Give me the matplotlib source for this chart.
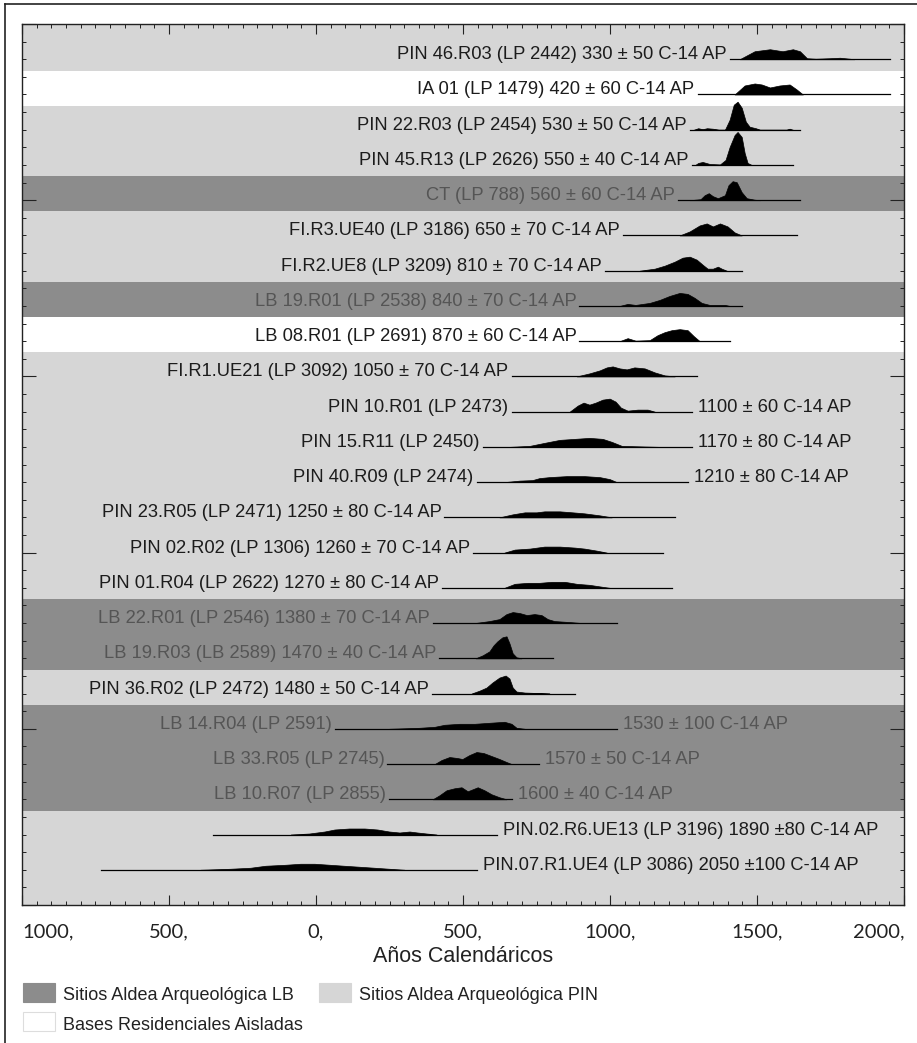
import matplotlib.pyplot as plt
from matplotlib.lines import Line2D
from matplotlib.patches import Rectangle
from matplotlib.ticker import MultipleLocator
from matplotlib.transforms import offset_copy

# sample name + lab code, and the radiocarbon date of every row (top to bottom)
names = [
    "PIN 46.R03 (LP 2442)", "IA 01 (LP 1479)", "PIN 22.R03 (LP 2454)",
    "PIN 45.R13 (LP 2626)", "CT (LP 788)", "FI.R3.UE40 (LP 3186)",
    "FI.R2.UE8 (LP 3209)", "LB 19.R01 (LP 2538)", "LB 08.R01 (LP 2691)",
    "FI.R1.UE21 (LP 3092)", "PIN 10.R01 (LP 2473)", "PIN 15.R11 (LP 2450)",
    "PIN 40.R09 (LP 2474)", "PIN 23.R05 (LP 2471)", "PIN 02.R02 (LP 1306)",
    "PIN 01.R04 (LP 2622)", "LB 22.R01 (LP 2546)", "LB 19.R03 (LB 2589)",
    "PIN 36.R02 (LP 2472)", "LB 14.R04 (LP 2591)", "LB 33.R05 (LP 2745)",
    "LB 10.R07 (LP 2855)", "PIN.02.R6.UE13 (LP 3196)", "PIN.07.R1.UE4 (LP 3086)",
]
dates = [
    "330 ± 50 C-14 AP", "420 ± 60 C-14 AP", "530 ± 50 C-14 AP",
    "550 ± 40 C-14 AP", "560 ± 60 C-14 AP", "650 ± 70 C-14 AP",
    "810 ± 70 C-14 AP", "840 ± 70 C-14 AP", "870 ± 60 C-14 AP",
    "1050 ± 70 C-14 AP", "1100 ± 60 C-14 AP", "1170 ± 80 C-14 AP",
    "1210 ± 80 C-14 AP", "1250 ± 80 C-14 AP", "1260 ± 70 C-14 AP",
    "1270 ± 80 C-14 AP", "1380 ± 70 C-14 AP", "1470 ± 40 C-14 AP",
    "1480 ± 50 C-14 AP", "1530 ± 100 C-14 AP", "1570 ± 50 C-14 AP",
    "1600 ± 40 C-14 AP", "1890 ±80 C-14 AP", "2050 ±100 C-14 AP",
]
# where the label goes: all on the left, name left / date right, all on the right
label_side = (["left"] * 10 + ["split"] * 3 + ["left"] * 6
              + ["split"] * 3 + ["right"] * 2)
# LB = Aldea LB, PIN = Aldea PIN, BRA = bases residenciales aisladas
groups = ["PIN", "BRA", "PIN", "PIN", "LB", "PIN", "PIN", "LB", "BRA",
          "PIN", "PIN", "PIN", "PIN", "PIN", "PIN", "PIN", "LB", "LB",
          "PIN", "LB", "LB", "LB", "PIN", "PIN"]

# calibrated range drawn as baseline (cal years, negative = BC)
range_start = [1407, 1298, 1271, 1278, 1230, 1043, 982, 896, 896, 665, 665, 567,
               546, 437, 533, 427, 397, 420, 393, 63, 243, 249, -352, -731]
range_end = [1952, 1952, 1646, 1622, 1646, 1635, 1448, 1448, 1407, 1295, 1278, 1278,
             1264, 1220, 1179, 1210, 1023, 805, 880, 1023, 760, 665, 614, 546]

# probability curves (year, relative probability)
curve_years = [
    [1441, 1492, 1544, 1587, 1622, 1646, 1670, 1700, 1747, 1782, 1816, 1830],
    [1424, 1458, 1492, 1516, 1544, 1577, 1611, 1635, 1656],
    [1285, 1300, 1315, 1330, 1350, 1370, 1391, 1407, 1421, 1434, 1448, 1462, 1475,
     1496, 1510, 1600, 1611, 1622],
    [1290, 1300, 1315, 1339, 1374, 1393, 1407, 1424, 1434, 1448, 1458, 1468, 1482],
    [1271, 1308, 1322, 1336, 1350, 1367, 1391, 1403, 1417, 1431, 1448, 1465, 1492, 1510],
    [1237, 1271, 1305, 1329, 1350, 1374, 1400, 1424, 1448],
    [1101, 1152, 1186, 1220, 1247, 1271, 1295, 1315, 1332, 1350, 1367, 1380, 1397],
    [1033, 1060, 1087, 1135, 1169, 1203, 1237, 1264, 1288, 1312, 1339, 1391, 1407],
    [1033, 1060, 1087, 1135, 1162, 1186, 1210, 1237, 1264, 1285, 1305],
    [887, 930, 965, 989, 1009, 1033, 1057, 1083, 1118, 1152, 1186, 1220],
    [863, 890, 910, 930, 951, 975, 999, 1019, 1037, 1060, 1094, 1128, 1152],
    [658, 727, 777, 829, 880, 930, 975, 1006, 1040, 1101, 1169],
    [641, 693, 736, 760, 794, 853, 913, 965, 999, 1023],
    [624, 669, 710, 750, 777, 829, 873, 913, 965, 1006],
    [641, 676, 727, 777, 829, 880, 913, 954, 989],
    [641, 676, 720, 760, 801, 846, 887, 930, 975, 999],
    [540, 590, 624, 648, 669, 693, 717, 743, 767, 788, 811, 863, 906],
    [543, 567, 590, 604, 617, 634, 648, 658, 669, 682, 699],
    [529, 557, 580, 600, 624, 645, 658, 669, 682, 710, 760, 794],
    [249, 352, 404, 437, 488, 540, 590, 641, 665, 682, 710],
    [404, 427, 454, 481, 498, 522, 546, 570, 597, 624, 648, 665],
    [397, 420, 444, 471, 495, 516, 533, 550, 573, 597, 624, 648],
    [-86, -23, 29, 63, 113, 165, 209, 249, 284, 318, 345, 376, 410],
    [-393, -291, -223, -172, -103, -53, -5, 46, 96, 148, 199, 249, 301],
]
curve_prob = [
    [0, 8, 10, 8, 10, 8, 1, 0.5, 1, 1.5, 0.5, 0],
    [0, 9, 11, 10, 7, 9, 10, 5, 0],
    [0, 1.5, 0.5, 1.5, 1, 0, 0, 10, 25, 28, 22, 8, 3, 1.5, 0, 0, 1, 0],
    [0, 2, 3, 1, 0.5, 5, 18, 30, 33, 28, 12, 2, 0],
    [0, 1, 5, 7, 4, 2, 5, 15, 19, 18, 8, 2, 0.5, 0],
    [0, 4, 10, 12, 9, 12, 9, 3, 0],
    [0, 2, 5, 9, 13, 14, 11, 6, 2, 2, 4, 2, 0],
    [0, 2, 1, 3, 6, 10, 13, 12, 8, 3, 1, 1, 0],
    [0, 3, 0.5, 1, 6, 9, 11, 12, 11, 5, 0],
    [0, 3, 6, 9, 10, 8, 7, 9, 8, 4, 1, 0],
    [0, 6, 9, 7, 9, 12, 13, 10, 4, 1, 2, 2, 0],
    [0, 1, 4, 7, 8, 9, 8, 5, 1, 0.5, 0],
    [0, 1.5, 2, 4, 5, 6, 6, 5, 3, 0],
    [0, 3, 5, 5, 6, 6, 5, 4, 2, 0],
    [0, 3, 4, 6, 6, 5, 4, 2, 0],
    [0, 4, 5, 5, 6, 6, 4, 3, 1, 0],
    [0, 2, 4, 9, 11, 10, 8, 9, 8, 4, 2, 1, 0],
    [0, 3, 7, 13, 17, 21, 22, 15, 5, 1, 0],
    [0, 3, 6, 11, 16, 18, 15, 6, 2, 1, 0.5, 0],
    [0, 1, 2, 4, 5, 5, 6, 7, 5, 1, 0],
    [0, 4, 7, 6, 5, 9, 12, 11, 8, 5, 2, 0],
    [0, 4, 9, 11, 12, 8, 10, 12, 9, 5, 2, 0],
    [0, 1, 3, 5, 6, 6, 5, 3, 2, 3, 2, 1, 0],
    [0, 1, 2, 4, 5, 6, 6, 5, 4, 3, 2, 1, 0],
]

x_ticks = [-1000, -500, 0, 500, 1000, 1500, 2000]
x_tick_labels = ["1000,", "500,", "0,", "500,", "1000,", "1500,", "2000,"]

band_colors = {"PIN": "#d6d6d6", "LB": "#8c8c8c", "BRA": "white"}
legend_labels = {"LB": "Sitios Aldea Arqueológica LB",
                 "PIN": "Sitios Aldea Arqueológica PIN",
                 "BRA": "Bases Residenciales Aisladas"}
PX_PER_ROW = 35.24

W, H = 917, 1043
fig = plt.figure(figsize=(W / 100, H / 100), dpi=100)
plt.rcParams["font.family"] = ["Liberation Sans", "DejaVu Sans"]

ax = fig.add_axes([22 / W, 1 - 905 / H, (904 - 22) / W, (905 - 24) / H])
ax.set_xlim(-1000, 2000)
ax.set_ylim(25, 0)

n = len(names)
for i in range(n):
    row = i + 1
    top = 0 if i == 0 else row - 0.68
    bottom = 25 if i == n - 1 else row + 0.32
    if groups[i] != "BRA":
        ax.axhspan(top, bottom, color=band_colors[groups[i]], lw=0, zorder=0)

left_tr = offset_copy(ax.transData, fig=fig, x=-3, y=0, units="dots")
right_tr = offset_copy(ax.transData, fig=fig, x=6, y=0, units="dots")

for i in range(n):
    row = i + 1
    tcol = "#555555" if groups[i] == "LB" else "#1c1c1c"
    ax.plot([range_start[i], range_end[i]], [row, row], color="black", lw=0.9, zorder=3)
    ys = [row - p / PX_PER_ROW for p in curve_prob[i]]
    ax.fill_between(curve_years[i], row, ys, color="black", lw=0.5, zorder=3)

    kw = dict(fontsize=13.2, color=tcol, va="baseline", zorder=4)
    if label_side[i] == "left":
        ax.text(range_start[i], row, names[i] + " " + dates[i], ha="right",
                transform=left_tr, **kw)
    elif label_side[i] == "split":
        ax.text(range_start[i], row, names[i], ha="right", transform=left_tr, **kw)
        ax.text(range_end[i], row, dates[i], ha="left", transform=right_tr, **kw)
    else:
        ax.text(range_end[i], row, names[i] + " " + dates[i], ha="left",
                transform=right_tr, **kw)

# ticks on all four sides, pointing in
ax.set_xticks(x_ticks)
ax.set_xticklabels(x_tick_labels, fontfamily="Lato", fontsize=14.5, color="#222222")
tl = ax.get_xticklabels()
tl[0].set_ha("left")
tl[-1].set_ha("right")
ax.xaxis.set_minor_locator(MultipleLocator(50))
ax.yaxis.set_major_locator(MultipleLocator(5))
ax.yaxis.set_minor_locator(MultipleLocator(0.5))
ax.tick_params(which="both", direction="in", top=True, right=True, color="#222222")
ax.tick_params(axis="x", which="major", length=7.5, width=0.8, pad=13)
ax.tick_params(axis="x", which="minor", length=3, width=0.7)
ax.tick_params(axis="y", which="major", length=10, width=0.8, labelleft=False)
ax.tick_params(axis="y", which="minor", length=3, width=0.7)
for sp in ax.spines.values():
    sp.set_linewidth(1.0)
    sp.set_color("#222222")

ax.set_xlabel("Años Calendáricos", fontsize=15.5, color="#222222", labelpad=4)

# legend drawn by hand below the axes
legend_items = [("LB", 23, 983), ("PIN", 319, 983), ("BRA", 23, 1012)]
for key, px, py in legend_items:
    edge = "#dddddd" if key == "BRA" else band_colors[key]
    fig.add_artist(Rectangle((px / W, 1 - (py + 19) / H), 32 / W, 19 / H,
                             facecolor=band_colors[key], edgecolor=edge, lw=0.8,
                             transform=fig.transFigure))
    fig.text((px + 40) / W, 1 - (py + 13) / H, legend_labels[key], fontsize=13,
             va="center", ha="left", color="#222222")

# outer frame (only left and top edges are visible)
fig.add_artist(Line2D([5 / W, 5 / W], [0, 1 - 4 / H], color="#222222", lw=1.2,
                      transform=fig.transFigure))
fig.add_artist(Line2D([5 / W, 1], [1 - 4 / H, 1 - 4 / H], color="#222222", lw=1.2,
                      transform=fig.transFigure))

fig.savefig("out.png", dpi=100)
